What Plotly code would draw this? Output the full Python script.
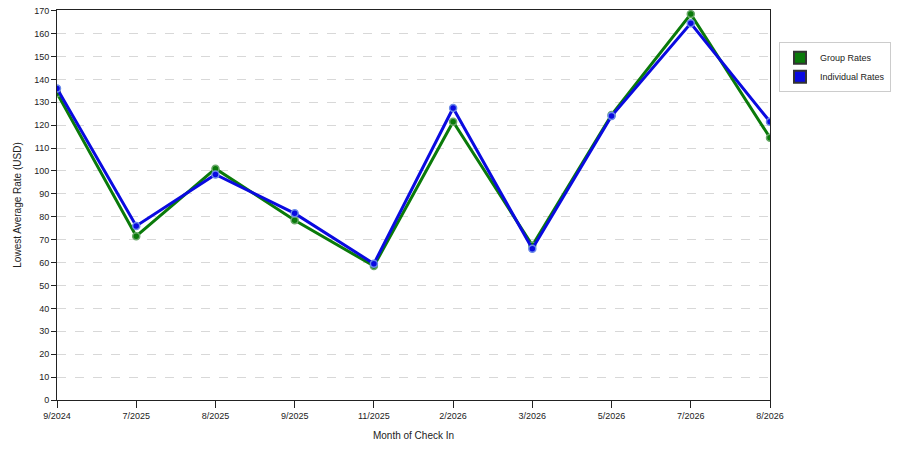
import plotly.graph_objects as go

# data
months = ["9/2024", "7/2025", "8/2025", "9/2025", "11/2025",
          "2/2026", "3/2026", "5/2026", "7/2026", "8/2026"]
group_rates = [134, 71.5, 101, 78.5, 58.5, 121.5, 67.5, 124.5, 168.5, 114.5]
individual_rates = [136, 76, 98.5, 81.5, 59.5, 127.5, 66, 124, 164.5, 121.5]
rate_ticks = list(range(0, 171, 10))

GREEN = "#0a7a0a"
BLUE = "#0a0ae0"
FONT = "Liberation Sans"

fig = go.Figure()

for name, vals, color, halo in [
    ("Group Rates", group_rates, GREEN, "#6aa86a"),
    ("Individual Rates", individual_rates, BLUE, "#6a8ae8"),
]:
    fig.add_trace(go.Scatter(
        x=months, y=vals, name=name, mode="lines+markers",
        line={"color": color, "width": 3},
        marker={"size": 7, "color": color, "line": {"color": halo, "width": 1.5}},
        showlegend=False,
    ))
    # square swatch for the legend
    fig.add_trace(go.Scatter(
        x=[None], y=[None], name=name, mode="markers",
        marker={"symbol": "square", "size": 13, "color": color,
                "line": {"color": "#333333", "width": 1}},
    ))

fig.update_layout(
    width=900, height=450,
    margin={"l": 57, "r": 130, "t": 6, "b": 50},
    plot_bgcolor="white", paper_bgcolor="white",
    font={"family": FONT, "size": 9, "color": "#222222"},
    legend={
        "x": 1.0126, "y": 0.917, "xanchor": "left", "yanchor": "top",
        "bordercolor": "#cccccc", "borderwidth": 1,
        "font": {"size": 9}, "itemsizing": "constant",
        "tracegroupgap": 2,
    },
    xaxis={
        "type": "category", "range": [0, len(months) - 1],
        "showgrid": False, "showline": True, "linecolor": "#222222",
        "linewidth": 1, "mirror": True,
        "ticks": "outside", "ticklen": 7, "tickcolor": "#222222",
        "title": {"text": "Month of Check In", "standoff": 12,
                  "font": {"size": 10}},
    },
    yaxis={
        "range": [0, 170.3], "tickmode": "array", "tickvals": rate_ticks,
        "showgrid": True, "gridcolor": "#d8d8d8", "griddash": "dash",
        "gridwidth": 1,
        "zeroline": False,
        "showline": True, "linecolor": "#222222", "linewidth": 1,
        "mirror": True,
        "ticks": "outside", "ticklen": 5, "tickcolor": "#222222",
        "title": {"text": "Lowest Average Rate (USD)", "standoff": 10,
                  "font": {"size": 10}},
    },
)

# drop the page's default body margin so the figure sits at the window corner
fig.write_html(
    "out.html",
    config={"displayModeBar": False},
    post_script="document.body.style.margin='0';",
)
